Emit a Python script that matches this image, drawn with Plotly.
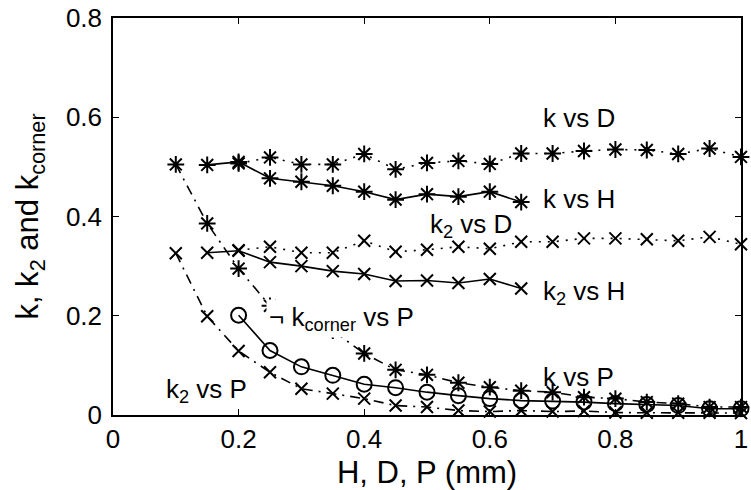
import plotly.graph_objects as go

# ---- data ----
x_kD = [0.2, 0.25, 0.3, 0.35, 0.4, 0.45, 0.5, 0.55, 0.6, 0.65, 0.7, 0.75, 0.8, 0.85, 0.9, 0.95, 1.0]
k_vs_D = [0.507, 0.519, 0.505, 0.505, 0.526, 0.495, 0.508, 0.512, 0.506, 0.527, 0.527, 0.532, 0.535, 0.534, 0.526, 0.537, 0.520]
k2_vs_D = [0.332, 0.339, 0.327, 0.327, 0.351, 0.329, 0.333, 0.339, 0.335, 0.349, 0.349, 0.356, 0.356, 0.354, 0.351, 0.359, 0.344]

x_kH = [0.15, 0.2, 0.25, 0.3, 0.35, 0.4, 0.45, 0.5, 0.55, 0.6, 0.65]
k_vs_H = [0.504, 0.510, 0.477, 0.470, 0.462, 0.450, 0.434, 0.445, 0.440, 0.450, 0.429]
k2_vs_H = [0.327, 0.331, 0.308, 0.300, 0.290, 0.284, 0.270, 0.271, 0.266, 0.274, 0.255]

x_kP = [0.1, 0.15, 0.2, 0.25, 0.3, 0.35, 0.4, 0.45, 0.5, 0.55, 0.6, 0.65, 0.7, 0.75, 0.8, 0.85, 0.9, 0.95, 1.0]
k_vs_P = [0.505, 0.386, 0.295, 0.22, 0.19, 0.17, 0.124, 0.091, 0.081, 0.065, 0.056, 0.049, 0.046, 0.036, 0.033, 0.026, 0.023, 0.016, 0.016]
k2_vs_P = [0.326, 0.199, 0.129, 0.086, 0.053, 0.043, 0.033, 0.019, 0.016, 0.009, 0.007, 0.009, 0.007, 0.008, 0.005, 0.0045, 0.0045, 0.0045, 0.004]

x_kc = [0.2, 0.25, 0.3, 0.35, 0.4, 0.45, 0.5, 0.55, 0.6, 0.65, 0.7, 0.75, 0.8, 0.85, 0.9, 0.95, 1.0]
kcorner_vs_P = [0.201, 0.130, 0.097, 0.080, 0.062, 0.055, 0.046, 0.039, 0.033, 0.029, 0.028, 0.026, 0.023, 0.021, 0.019, 0.0125, 0.0125]

labels = [
    ("k vs D", 0.68, 0.598),
    ("k vs H", 0.68, 0.435),
    ("k<sub>2</sub> vs D", 0.50, 0.382),
    ("k<sub>2</sub> vs H", 0.68, 0.247),
    ("k vs P", 0.68, 0.0757),
    ("k<sub>2</sub> vs P", 0.079, 0.05),
    ("¬ k<sub>corner</sub> vs P", 0.243, 0.195),
]

xticks = [0, 0.2, 0.4, 0.6, 0.8, 1]
xticklabels = ["0", "0.2", "0.4", "0.6", "0.8", "1"]
yticks = [0, 0.2, 0.4, 0.6, 0.8]
yticklabels = ["0", "0.2", "0.4", "0.6", "0.8"]

FONT = "Liberation Sans"
FS = 26
BLK = "black"

fig = go.Figure()

def add(x, y, symbol, dash, msize=14):
    fig.add_trace(go.Scatter(
        x=x, y=y, mode="lines+markers",
        line=dict(color=BLK, width=1.6, dash=dash),
        marker=dict(symbol=symbol, size=msize, color=BLK,
                    line=dict(color=BLK, width=2)),
        showlegend=False, cliponaxis=False))

add(x_kD, k_vs_D, "asterisk-open", "2px,7px")
add(x_kD, k2_vs_D, "x-thin-open", "2px,7px", 12)
add(x_kH, k_vs_H, "asterisk-open", "solid")
add(x_kH, k2_vs_H, "x-thin-open", "solid", 12)
add(x_kP, k_vs_P, "asterisk-open", "10px,6px,2px,6px")
add(x_kP, k2_vs_P, "x-thin-open", "10px,6px,2px,6px", 12)
add(x_kc, kcorner_vs_P, "circle-open", "solid", 15)

for txt, ax, ay in labels:
    fig.add_annotation(
        x=ax, y=ay, xref="x", yref="y", text=txt, showarrow=False,
        xanchor="left", yanchor="middle",
        font=dict(family=FONT, size=FS, color=BLK),
        bgcolor="white" if "corner" in txt else "rgba(0,0,0,0)",
        borderpad=2)

fig.update_layout(
    width=751, height=490,
    margin=dict(l=113, r=3, t=18, b=75),
    paper_bgcolor="white", plot_bgcolor="white",
    font=dict(family=FONT, size=FS, color=BLK),
    xaxis=dict(range=[0, 1], tickvals=xticks, ticktext=xticklabels,
               ticks="inside", ticklen=6, tickwidth=1, tickcolor=BLK,
               showline=True, linecolor=BLK, linewidth=1.5, mirror="allticks",
               showgrid=False, zeroline=False, ticklabeloverflow="allow",
               title=dict(text="H, D, P (mm)", standoff=8),
               tickfont=dict(family=FONT, size=FS)),
    yaxis=dict(range=[0, 0.8], tickvals=yticks, ticktext=yticklabels,
               ticks="inside", ticklen=6, tickwidth=1, tickcolor=BLK,
               showline=True, linecolor=BLK, linewidth=1.5, mirror="allticks",
               showgrid=False, zeroline=False, ticklabelstandoff=4,
               title=dict(text="k, k<sub>2</sub> and k<sub>corner</sub>", standoff=18),
               tickfont=dict(family=FONT, size=FS)),
)

fig.write_html("out.html")
